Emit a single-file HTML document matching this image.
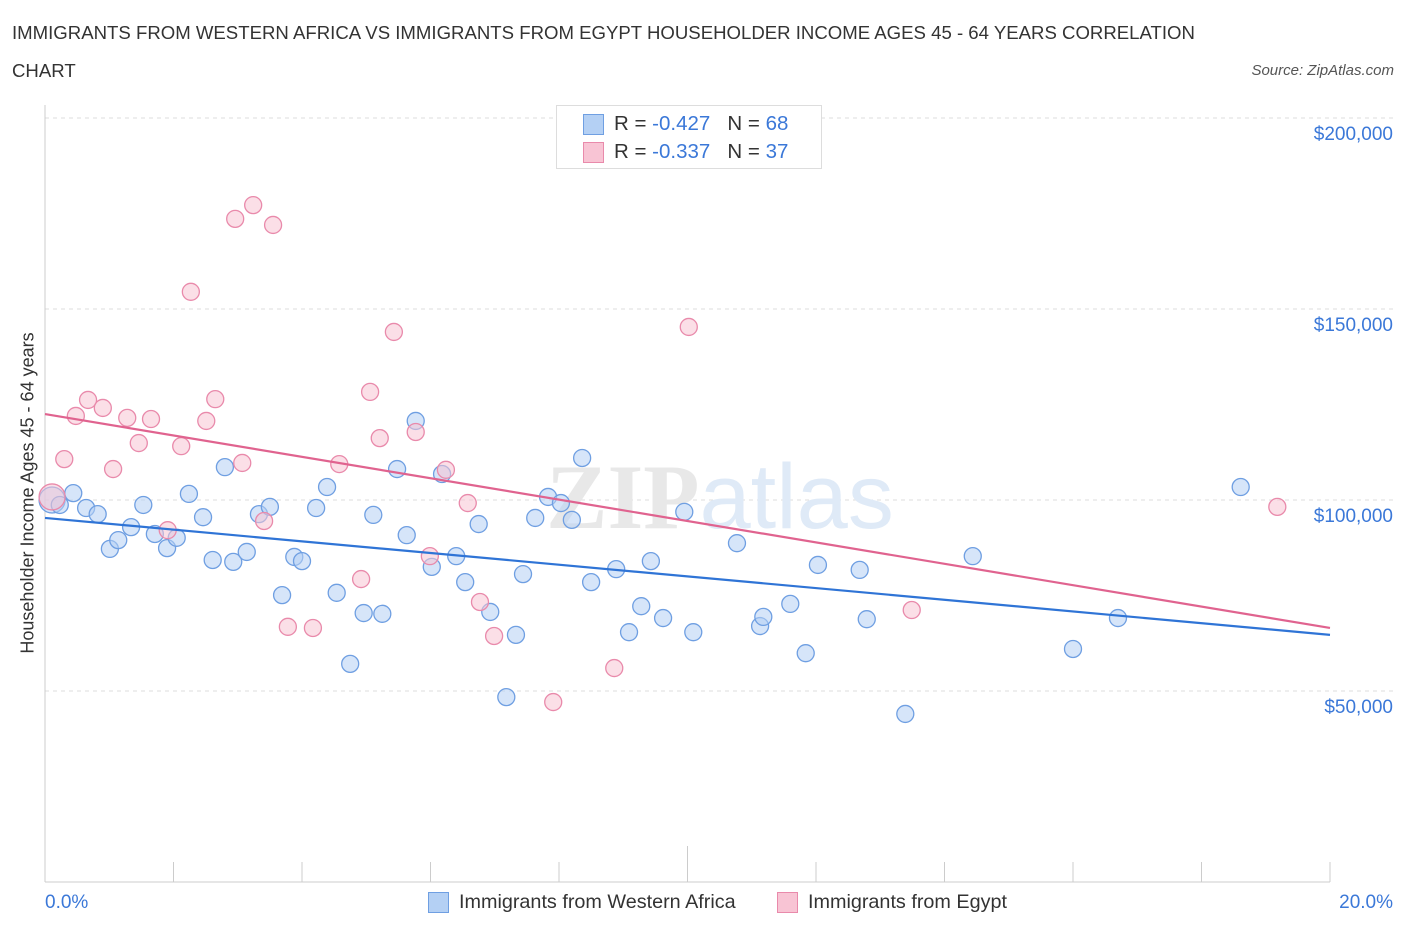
<!DOCTYPE html>
<html><head><meta charset="utf-8"><style>
body{margin:0;background:#fff;font-family:"Liberation Sans",sans-serif;}
#wrap{position:relative;width:1406px;height:930px;overflow:hidden;}
.t{position:absolute;white-space:nowrap;}
</style></head><body>
<div id="wrap">
<div class="t" style="left:12px;top:14px;font-size:18.6px;color:#333;line-height:38px;">IMMIGRANTS FROM WESTERN AFRICA VS IMMIGRANTS FROM EGYPT HOUSEHOLDER INCOME AGES 45 - 64 YEARS CORRELATION<br>CHART</div>
<div class="t" style="right:12px;top:62px;font-size:15px;color:#555;font-style:italic;">Source: ZipAtlas.com</div>
<svg id="svg" width="1406" height="930" style="position:absolute;left:0;top:0"></svg>
</div>
<script>
const yTicks=[50000,100000,150000,200000];
const yTickLabels=["$50,000","$100,000","$150,000","$200,000"];
const xEnds=[0,20];
const xEndLabels=["0.0%","20.0%"];
const blueX=[0.11,0.44,0.64,0.82,1.01,1.14,1.34,1.53,1.71,1.90,2.05,2.24,2.46,2.61,2.80,2.93,3.14,3.33,3.50,3.69,3.88,4.00,4.22,4.39,4.54,4.75,4.96,5.11,5.25,5.48,5.63,5.77,6.02,6.18,6.40,6.54,6.75,6.93,7.18,7.33,7.44,7.63,7.83,8.03,8.20,8.36,8.50,8.89,9.09,9.28,9.43,9.62,9.95,10.09,10.77,11.13,11.18,11.60,11.84,12.03,12.68,12.79,13.39,14.44,16.00,16.70,18.61,0.23];
const blueY=[100000,101800,97900,96300,87200,89500,92900,98700,91100,87400,90100,101600,95500,84300,108600,83800,86400,96300,98200,75100,85100,84000,97900,103400,75700,57100,70400,96100,70200,108100,90800,120700,82500,106800,85300,78500,93700,70700,48400,64700,80600,95300,100800,99200,94800,111000,78500,81900,65400,72200,84000,69100,96900,65400,88700,67000,69400,72800,59900,83000,81700,68800,44000,85300,61000,69100,103400,98700];
const pinkX=[0.11,0.30,0.48,0.67,0.90,1.06,1.28,1.46,1.65,1.91,2.12,2.27,2.51,2.65,2.96,3.07,3.24,3.41,3.55,3.78,4.17,4.58,4.92,5.06,5.21,5.43,5.77,5.99,6.24,6.58,6.77,6.99,7.91,8.86,10.02,13.49,19.18];
const pinkY=[100800,110700,122000,126200,124100,108100,121500,114900,121200,92100,114100,154500,120700,126400,173600,109700,177200,94500,172000,66800,66500,109400,79300,128300,116200,144000,117800,85300,107900,99200,73300,64400,47100,56000,145300,71200,98200];
const blueTrend=[95300,64700];
const pinkTrend=[122500,66500];
const L=45,R=1330,T=118,B=882;
const X=v=>L+(v-0)/20*(R-L);
const Y=v=>B-(v/200000)*(B-T);
const svg=document.getElementById('svg');
const NS='http://www.w3.org/2000/svg';
function mk(tag,attrs,parent){const e=document.createElementNS(NS,tag);for(const k in attrs)e.setAttribute(k,attrs[k]);(parent||svg).appendChild(e);return e;}
yTicks.forEach((v,i)=>{
 const g=mk('line',{x1:L,x2:1395,y1:Y(v),y2:Y(v),stroke:'#ddd','stroke-dasharray':'4,4'});
 
 
 const t=mk('text',{x:1393,y:Y(v)+22,'text-anchor':'end','font-size':19,fill:'#3b78d8','font-family':'Liberation Sans'});
 t.textContent=yTickLabels[i];
 
 
});
const topGrid=mk('line',{x1:L,x2:1395,y1:T,y2:T,stroke:'#ddd','stroke-dasharray':'4,4'});


const ya=mk('line',{x1:L,x2:L,y1:105,y2:B,stroke:'#ccc'});


const xa=mk('line',{x1:L,x2:R,y1:B,y2:B,stroke:'#ccc'});


for(let i=0;i<=10;i++){
 const tk=mk('line',{x1:X(i*2),x2:X(i*2),y1:B,y2:i==5?846:862,stroke:'#ccc'});
 
 
}
xEnds.forEach((v,i)=>{
 const t=mk('text',{x:i==0?X(v):1393,y:908,'text-anchor':i==0?'start':'end','font-size':19,fill:'#3b78d8','font-family':'Liberation Sans'});
 t.textContent=xEndLabels[i];
 
 
});
const wm=mk('text',{x:720,y:528,'text-anchor':'middle','font-size':92,fill:'#eceef2','font-family':'Liberation Serif'});
wm.innerHTML='<tspan font-weight="bold" fill="#e8e8e8">ZIP</tspan><tspan font-family="Liberation Sans" fill="#dfeaf7">atlas</tspan>';


function pts(xs,ys,fill,stroke,name){
 xs.forEach((x,i)=>{
  const c=mk('circle',{cx:X(x),cy:Y(ys[i]),r:i==0?13:8.5,fill:fill,'fill-opacity':0.55,stroke:stroke,'stroke-width':1.3});
  
  
 });
}
pts(blueX,blueY,'#b4d0f4','#6f9fe2','western-africa-point');
pts(pinkX,pinkY,'#f8c4d4','#e98aab','egypt-point');
const bl=mk('line',{x1:X(0),x2:X(20),y1:Y(blueTrend[0]),y2:Y(blueTrend[1]),stroke:'#2f74d6','stroke-width':2.2});


const pl=mk('line',{x1:X(0),x2:X(20),y1:Y(pinkTrend[0]),y2:Y(pinkTrend[1]),stroke:'#e0638f','stroke-width':2.2});


</script>
<div class="t" style="left:28px;top:493px;font-size:18px;color:#333;transform:translate(-50%,-50%) rotate(-90deg);">Householder Income Ages 45 - 64 years</div>
<div style="position:absolute;left:556px;top:105px;width:264px;height:62px;border:1px solid #ddd;background:#fff;font-size:20.5px;color:#333;">
 <div style="position:absolute;left:26px;top:8px;width:19px;height:19px;background:#b4d0f4;border:1px solid #6f9fe2;"></div>
 <div class="t" style="left:57px;top:6px;">R = <span style="color:#3b78d8">-0.427</span>&nbsp;&nbsp;&nbsp;N = <span style="color:#3b78d8">68</span></div>
 <div style="position:absolute;left:26px;top:36px;width:19px;height:19px;background:#f8c4d4;border:1px solid #e98aab;"></div>
 <div class="t" style="left:57px;top:34px;">R = <span style="color:#3b78d8">-0.337</span>&nbsp;&nbsp;&nbsp;N = <span style="color:#3b78d8">37</span></div>
</div>
<div style="position:absolute;left:428px;top:891px;font-size:19.8px;color:#333;">
 <div style="position:absolute;left:0;top:1px;width:19px;height:19px;background:#b4d0f4;border:1px solid #6f9fe2;"></div>
 <div class="t" style="left:31px;top:0;">Immigrants from Western Africa</div>
</div>
<div style="position:absolute;left:777px;top:891px;font-size:19.8px;color:#333;">
 <div style="position:absolute;left:0;top:1px;width:19px;height:19px;background:#f8c4d4;border:1px solid #e98aab;"></div>
 <div class="t" style="left:31px;top:0;">Immigrants from Egypt</div>
</div>
</body></html>
